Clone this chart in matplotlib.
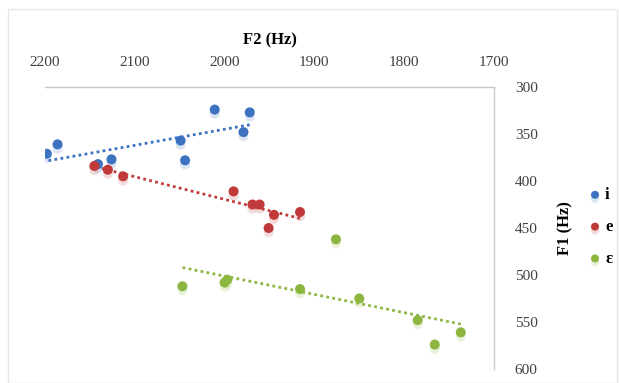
import numpy as np
import matplotlib
matplotlib.use('Agg')
import matplotlib.pyplot as plt
import matplotlib.patheffects as pe
from matplotlib.patches import Rectangle

plt.rcParams['font.family'] = ['Liberation Serif', 'DejaVu Serif']

# formant measurements (Hz) for each vowel
i_F2 = [2198, 2186, 2141, 2126, 2049, 2044, 2011, 1972, 1979]
i_F1 = [371, 361, 382, 377, 357, 378, 324, 327, 348]

e_F2 = [2145, 2130, 2113, 1990, 1969, 1961, 1945, 1951, 1916]
e_F1 = [384, 388, 395, 411, 425, 425, 436, 450, 433]

eps_F2 = [2047, 2000, 1997, 1916, 1876, 1850, 1785, 1766, 1737]
eps_F1 = [512, 508, 505, 515, 462, 525, 548, 574, 561]

labels = ['i', 'e', 'ɛ']
colors = ['#3D72C0', '#C03A3A', '#8CB640']

fig = plt.figure(figsize=(6.19, 3.83), dpi=100)
fig.patches.append(Rectangle((8/619, 0), 609/619, 1 - 9/383, transform=fig.transFigure,
                             fill=False, edgecolor='#E6E6E6', linewidth=1))
ax = fig.add_axes([45/619, 1 - 369/383, 449/619, 282/383])

series = [(i_F2, i_F1), (e_F2, e_F1), (eps_F2, eps_F1)]
for (f2, f1), lab, col in zip(series, labels, colors):
    f2 = np.array(f2)
    f1 = np.array(f1)
    ax.scatter(f2, f1, s=52, color=col, label=lab, zorder=3, linewidths=0,
               path_effects=[pe.withSimplePatchShadow(offset=(0, -3), shadow_rgbFace=col,
                                                      alpha=0.18)])
    # linear trend over the range of each vowel
    m, b = np.polyfit(f2, f1, 1)
    xx = np.array([f2.min(), f2.max()])
    ax.plot(xx, m * xx + b, linestyle=(0, (1, 1.2)), linewidth=2, color=col, zorder=2)

ax.set_xlim(2200, 1700)
ax.set_ylim(600, 300)
ax.set_xticks(np.arange(2200, 1699, -100))
ax.set_yticks(np.arange(300, 601, 50))

ax.xaxis.tick_top()
ax.yaxis.tick_right()
ax.tick_params(length=0, labelsize=11, colors='#404040')
ax.tick_params(axis='x', pad=13)
ax.tick_params(axis='y', pad=15)
for s in ['left', 'bottom']:
    ax.spines[s].set_visible(False)
for s in ['top', 'right']:
    ax.spines[s].set_color('#C8C8C8')
    ax.spines[s].set_linewidth(1)

ax.xaxis.set_label_position('top')
ax.set_xlabel('F2 (Hz)', fontsize=12, fontweight='bold', labelpad=8)
ax.yaxis.set_label_position('right')
ax.set_ylabel('F1 (Hz)', fontsize=12, fontweight='bold', labelpad=14)

leg = ax.legend(loc='center left', bbox_to_anchor=(590/619, 1 - 227/383),
                bbox_transform=fig.transFigure, frameon=False,
                borderaxespad=0, borderpad=0, handlelength=0.6,
                handletextpad=0.3, labelspacing=0.95, markerscale=0.8,
                prop={'weight': 'bold', 'size': 12})

fig.savefig('out.png', dpi=100)
